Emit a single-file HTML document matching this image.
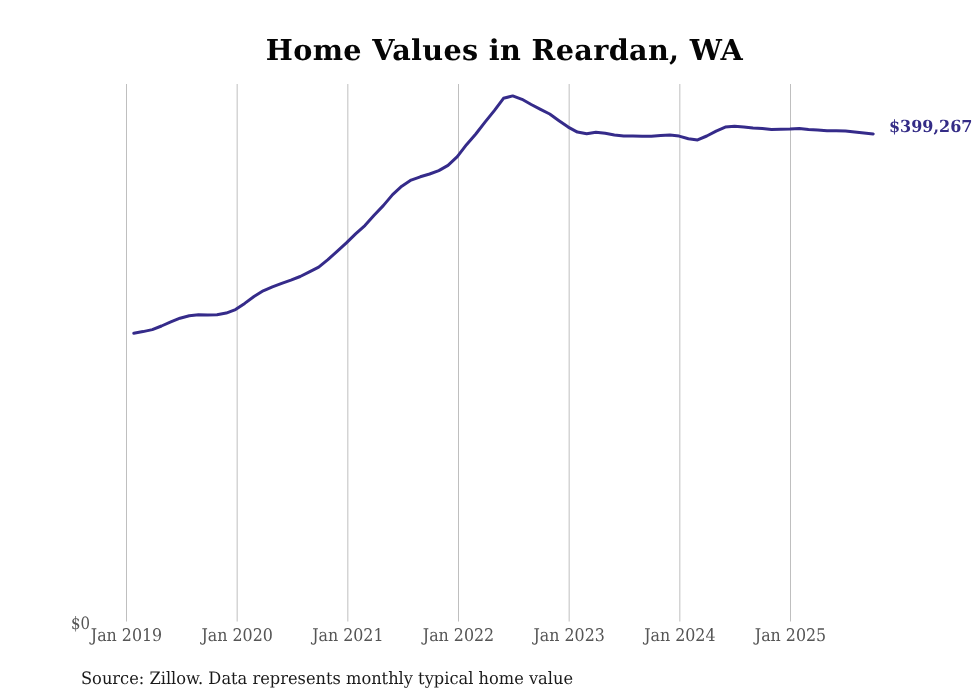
<!DOCTYPE html>
<html><head><meta charset="utf-8"><title>Home Values in Reardan, WA</title><style>
html,body{margin:0;padding:0;background:#fff;}
body{width:980px;height:699px;overflow:hidden;}
svg{display:block;will-change:transform;}
text{font-family:"DejaVu Serif","Liberation Serif",serif;text-rendering:geometricPrecision;}
</style></head><body>
<svg width="980" height="699" viewBox="0 0 980 699">
<rect width="980" height="699" fill="#fff"/>
<text transform="translate(504.4 60.3) scale(1 1.0)" text-anchor="middle" font-weight="bold" font-size="28.67" letter-spacing="0.34" fill="#050505">Home Values in Reardan, WA</text>
<g stroke="#bfbfbf" stroke-width="1">
<line x1="126.50" y1="84" x2="126.50" y2="621.5"/>
<line x1="237.17" y1="84" x2="237.17" y2="621.5"/>
<line x1="347.83" y1="84" x2="347.83" y2="621.5"/>
<line x1="458.50" y1="84" x2="458.50" y2="621.5"/>
<line x1="569.17" y1="84" x2="569.17" y2="621.5"/>
<line x1="679.84" y1="84" x2="679.84" y2="621.5"/>
<line x1="790.50" y1="84" x2="790.50" y2="621.5"/>
</g>
<g font-size="16" fill="#555">
<text transform="translate(126.50 641.0) scale(0.99 1.09)" text-anchor="middle">Jan 2019</text>
<text transform="translate(237.17 641.0) scale(0.99 1.09)" text-anchor="middle">Jan 2020</text>
<text transform="translate(347.83 641.0) scale(0.99 1.09)" text-anchor="middle">Jan 2021</text>
<text transform="translate(458.50 641.0) scale(0.99 1.09)" text-anchor="middle">Jan 2022</text>
<text transform="translate(569.17 641.0) scale(0.99 1.09)" text-anchor="middle">Jan 2023</text>
<text transform="translate(679.84 641.0) scale(0.99 1.09)" text-anchor="middle">Jan 2024</text>
<text transform="translate(790.50 641.0) scale(0.99 1.09)" text-anchor="middle">Jan 2025</text>
<text transform="translate(90.1 628.6) scale(0.935 1.07)" text-anchor="end" font-size="16">$0</text>
</g>
<polyline fill="none" stroke="#352b8a" stroke-width="3" stroke-linejoin="round" stroke-linecap="round" points="133.8,333.2 143.0,331.6 152.3,329.6 161.5,326.0 170.8,321.9 180.0,318.2 189.3,315.7 198.5,314.8 207.7,314.9 217.0,314.7 226.2,313.1 235.5,309.6 244.7,303.4 254.0,296.5 263.2,290.8 272.4,286.9 281.7,283.4 290.9,280.2 300.2,276.5 309.4,271.9 318.7,267.1 327.9,259.7 337.1,251.3 346.4,242.8 355.6,233.9 364.9,225.6 374.1,215.3 383.3,205.6 392.6,194.6 401.8,186.2 411.1,180.1 420.3,176.8 429.6,174.0 438.8,170.6 448.0,165.4 457.3,156.7 466.5,144.7 475.8,134.0 485.0,122.2 494.3,110.6 503.5,98.3 512.7,95.9 522.0,99.3 531.2,104.5 540.5,109.4 549.7,114.0 559.0,120.7 568.2,127.1 577.4,132.1 586.7,133.8 595.9,132.3 605.2,133.3 614.4,134.9 623.7,136.0 632.9,136.1 642.1,136.2 651.4,136.2 660.6,135.5 669.9,135.1 679.1,136.1 688.4,138.7 697.6,139.9 706.8,136.0 716.1,131.1 725.3,127.1 734.6,126.3 743.8,126.9 753.0,128.1 762.3,128.6 771.5,129.6 780.8,129.2 790.0,129.0 799.3,128.4 808.5,129.5 817.7,130.1 827.0,130.7 836.2,130.8 845.5,131.1 854.7,132.1 864.0,133.1 873.2,133.9"/>
<text transform="translate(888.9 132.3) scale(1.0 1.04)" font-weight="bold" font-size="16" fill="#342c86">$399,267</text>
<text transform="translate(81.0 683.6) scale(1.003 1.055)" font-size="16.2" fill="#1a1a1a">Source: Zillow. Data represents monthly typical home value</text>
</svg>
</body></html>
